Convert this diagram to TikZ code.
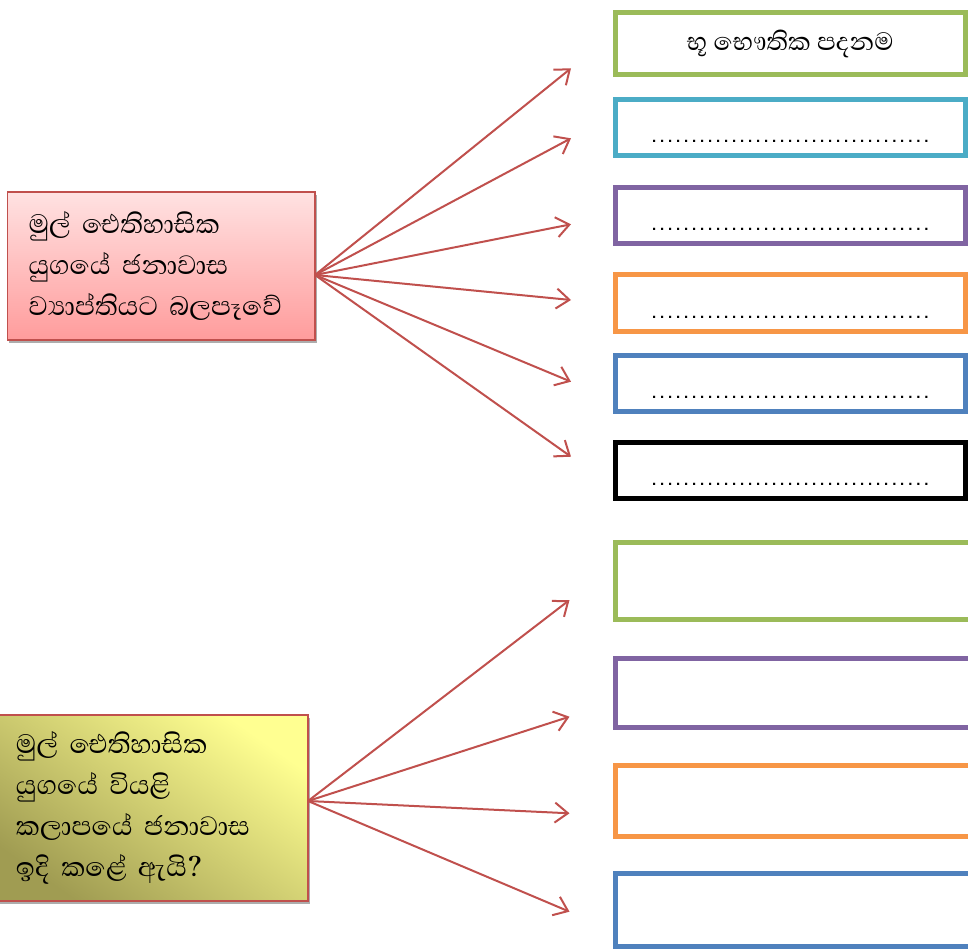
\documentclass[tikz,border=0pt]{standalone}
\usepackage{fontspec}
\setmainfont{Liberation Sans}
\newfontfamily\sinhfont[Script=Sinhala]{Abhaya Libre}
\usetikzlibrary{arrows.meta,shadows}
\definecolor{causered}{RGB}{192,80,77}
\definecolor{boxgreen}{RGB}{155,187,89}
\definecolor{boxcyan}{RGB}{75,172,198}
\definecolor{boxpurple}{RGB}{128,100,162}
\definecolor{boxorange}{RGB}{247,150,70}
\definecolor{boxblue}{RGB}{79,129,189}
\definecolor{pinktop}{RGB}{255,226,226}
\definecolor{pinkbottom}{RGB}{255,156,156}
\definecolor{yellowlight}{RGB}{255,255,145}
\definecolor{yellowdark}{RGB}{160,156,82}
\newcommand{\dotrow}{\hbox to 280pt{\leaders\hbox to 8pt{\hss.\hss}\hfill}}

\begin{document}
\begin{tikzpicture}[x=1pt,y=-1pt,
    answer/.style={draw,line width=5pt,outer sep=0pt,inner sep=0pt,minimum width=349.5pt},
    question/.style={draw=causered,line width=1.8pt,outer sep=0pt,align=left,inner xsep=21pt,
      font=\sinhfont\fontsize{34}{41}\selectfont,
      drop shadow={shadow xshift=1.5pt,shadow yshift=-3pt,fill=black!40,opacity=.8}},
    dots/.style={anchor=base,font=\bfseries\fontsize{15}{16}\selectfont},
    fan/.style={draw=causered,line width=2pt,-{Straight Barb[length=13pt,width=20pt]}}]
    \clip (0,0) rectangle (968,949);

    % questions on the left
    \node[question,top color=pinktop,bottom color=pinkbottom,minimum height=148pt,text width=265.5pt] (settle) at (161.25,266) {මුල් ඓතිහාසික\\යුගයේ ජනාවාස\\ව්‍යාප්තියට බලපෑවේ};
    \node[question,top color=yellowlight,bottom color=yellowdark,shading angle=-35,minimum height=186pt,text width=271pt] (dryzone) at (151.5,808) {මුල් ඓතිහාසික\\යුගයේ වියළි\\කලාපයේ ජනාවාස\\ඉදි කළේ ඇයි?};

    % answer boxes, upper group
    \node[answer,draw=boxgreen,minimum height=62.5pt,font=\sinhfont\fontsize{32}{36}\selectfont] (geo) at (790.25,43.75) {භූ භෞතික පදනම};
    \foreach \name/\col/\y in {ansb/boxcyan/127.5,ansc/boxpurple/215.75,ansd/boxorange/303,anse/boxblue/383,ansf/black/470.25} {
        \node[answer,draw=\col,minimum height=56pt] (\name) at (790.25,\y) {};
        \node[dots] (\name dots) at ([yshift=13pt]\name.south) {\dotrow};
    }

    % answer boxes, lower group (run off the page)
    \foreach \name/\col/\y/\h in {dryb/boxgreen/581/77,dryc/boxpurple/692.75/69.5,dryd/boxorange/801/71,drye/boxblue/909.75/73.5} {
        \node[answer,draw=\col,minimum width=385pt,minimum height=\h pt] (\name) at (807.5,\y) {};
    }

    % arrows
    \foreach \y [count=\i] in {68.3,138.3,224.3,300,381.7,456.7} {
        \coordinate (tipa\i) at (571,\y);
        \draw[fan] ([yshift=-9pt]settle.east) -- (tipa\i);
    }
    \foreach \y [count=\i] in {600,716.7,813.3,911.7} {
        \coordinate (tipb\i) at (569.5,\y);
        \draw[fan] ([yshift=7pt]dryzone.east) -- (tipb\i);
    }
\end{tikzpicture}
\end{document}
